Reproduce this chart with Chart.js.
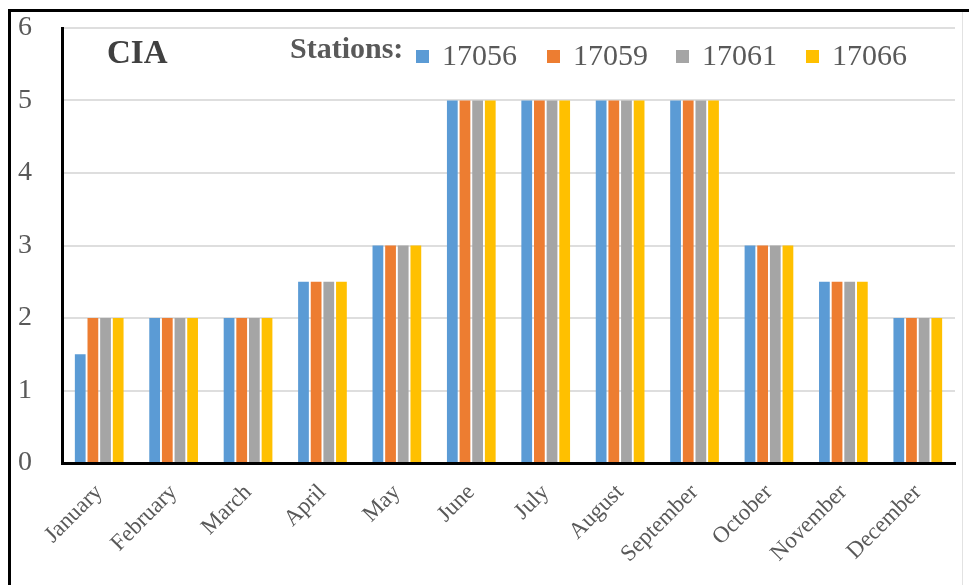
<!DOCTYPE html>
<html>
<head>
<meta charset="utf-8">
<script src="https://cdn.jsdelivr.net/npm/chart.js@4.4.0/dist/chart.umd.min.js"></script>
<style>
  html, body { margin: 0; padding: 0; background: #fff; }
  #wrap { position: relative; width: 969px; height: 585px; overflow: hidden; }
  .edge { position: absolute; pointer-events: none; }
  #topEdge { left: 8px; top: 9px; width: 961px; height: 3px; background: #000; }
  #leftEdge { left: 8px; top: 9px; width: 3px; height: 576px; background: #000; }
  #rightEdge { left: 962px; top: 12px; width: 1px; height: 573px; background: #e2e2e2; }
</style>
</head>
<body>
<div id="wrap">
  <canvas id="ciaChart" width="969" height="585"></canvas>
  <div class="edge" id="topEdge"></div>
  <div class="edge" id="leftEdge"></div>
  <div class="edge" id="rightEdge"></div>
</div>
<script>
const months = ["January", "February", "March", "April", "May", "June", "July",
  "August", "September", "October", "November", "December"];
const stations = ["17056", "17059", "17061", "17066"];
const st17056 = [1.5, 2, 2, 2.5, 3, 5, 5, 5, 5, 3, 2.5, 2];
const st17059 = [2, 2, 2, 2.5, 3, 5, 5, 5, 5, 3, 2.5, 2];
const st17061 = [2, 2, 2, 2.5, 3, 5, 5, 5, 5, 3, 2.5, 2];
const st17066 = [2, 2, 2, 2.5, 3, 5, 5, 5, 5, 3, 2.5, 2];
const colors = ["#5B9BD5", "#ED7D31", "#A5A5A5", "#FFC000"];

const serif = "'Liberation Serif', 'Times New Roman', serif";

// title "CIA" and the "Stations:" legend sit inside the plot area
const insideLegend = {
  id: "insideLegend",
  afterDraw(chart) {
    const ctx = chart.ctx;
    ctx.save();
    ctx.textBaseline = "alphabetic";
    ctx.fillStyle = "#404040";
    ctx.font = "bold 33px " + serif;
    ctx.fillText("CIA", 107, 63);
    ctx.font = "bold 30px " + serif;
    ctx.fillStyle = "#595959";
    ctx.fillText("Stations:", 290, 58);
    const xs = [416, 547, 676, 806];
    chart.data.datasets.forEach((ds, i) => {
      ctx.fillStyle = ds.backgroundColor;
      ctx.fillRect(xs[i], 50, 13, 13);
      ctx.fillStyle = "#595959";
      ctx.font = "30px " + serif;
      ctx.fillText(ds.label, xs[i] + 26, 65);
    });
    ctx.restore();
  }
};

new Chart(document.getElementById("ciaChart"), {
  type: "bar",
  data: {
    labels: months,
    datasets: [
      { label: stations[0], data: st17056, backgroundColor: colors[0] },
      { label: stations[1], data: st17059, backgroundColor: colors[1] },
      { label: stations[2], data: st17061, backgroundColor: colors[2] },
      { label: stations[3], data: st17066, backgroundColor: colors[3] },
    ],
  },
  options: {
    responsive: false,
    animation: false,
    layout: { padding: { top: 28, right: 14, left: 0, bottom: 0 } },
    datasets: { bar: { categoryPercentage: 0.68, barPercentage: 0.85 } },
    plugins: { legend: { display: false }, tooltip: { enabled: false } },
    scales: {
      x: {
        grid: { display: false },
        border: { color: "#000", width: 3 },
        ticks: {
          color: "#595959",
          font: { family: serif, size: 23 },
          minRotation: 45,
          maxRotation: 45,
          padding: 8,
        },
        afterFit: (scale) => { scale.height = 122; },
      },
      y: {
        min: 0,
        max: 6,
        grid: { color: "#dedede", lineWidth: 2, drawTicks: false },
        border: { color: "#000", width: 3 },
        ticks: {
          stepSize: 1,
          color: "#595959",
          font: { family: serif, size: 28 },
          padding: 30,
        },
        afterFit: (scale) => {
          scale.width = 62;
          scale.paddingTop = 0;
          scale.paddingBottom = 0;
        },
      },
    },
  },
  plugins: [insideLegend],
});
</script>
</body>
</html>
